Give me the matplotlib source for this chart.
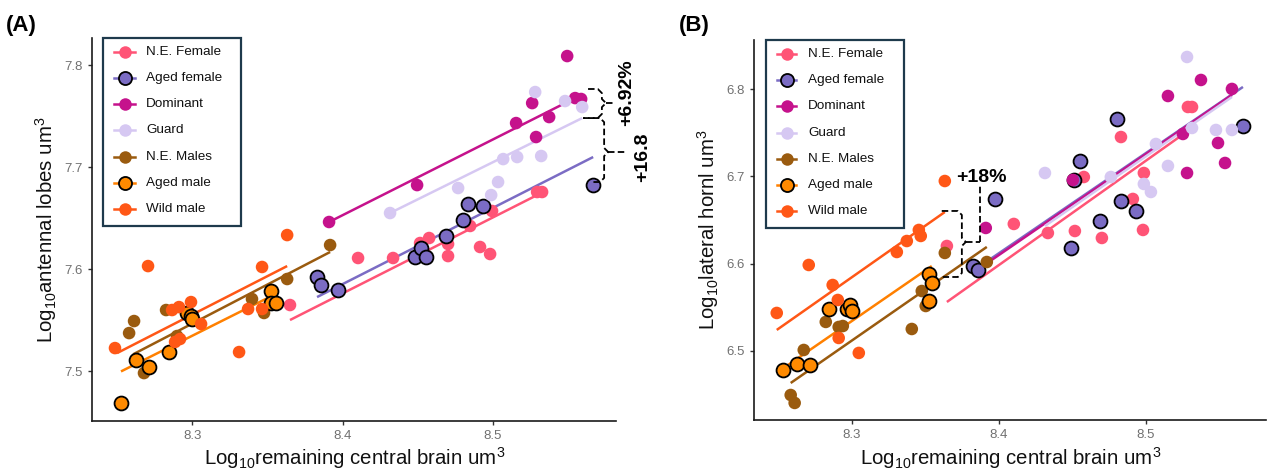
import matplotlib
matplotlib.use("Agg")
import matplotlib.pyplot as plt
from matplotlib.lines import Line2D
from matplotlib.patches import Rectangle

plt.rcParams['font.family'] = ['Liberation Sans', 'DejaVu Sans']
plt.rcParams['mathtext.fontset'] = 'custom'
plt.rcParams['mathtext.rm'] = 'Liberation Sans'
plt.rcParams['mathtext.it'] = 'Liberation Sans:italic'
plt.rcParams['mathtext.bf'] = 'Liberation Sans:bold'

# ---------------- data ----------------
groups = ["N.E. Female", "Aged female", "Dominant", "Guard",
          "N.E. Males", "Aged male", "Wild male"]
colors = ["#FF5476", "#7B6CC4", "#C5128C", "#D6C8F2",
          "#9A5B0F", "#FF8A00", "#FF5716"]
line_colors = ["#FF5476", "#7B6CC4", "#C5128C", "#D6C8F2",
               "#9A5B0F", "#FF8000", "#FF5716"]
edged = [False, True, False, False, False, True, False]

# Panel A: log10 remaining central brain vs log10 antennal lobes
a_nef_x = [8.3650, 8.4103, 8.4336, 8.4516, 8.4576, 8.4702, 8.4702, 8.4849, 8.4915, 8.4982, 8.4995, 8.5295, 8.5328]
a_nef_y = [7.5650, 7.6111, 7.6111, 7.6258, 7.6307, 7.6248, 7.6130, 7.6425, 7.6219, 7.6150, 7.6572, 7.6758, 7.6758]
a_agf_x = [8.3830, 8.3857, 8.3970, 8.4483, 8.4523, 8.4556, 8.4689, 8.4802, 8.4836, 8.4935, 8.5668]
a_agf_y = [7.5925, 7.5846, 7.5797, 7.6121, 7.6209, 7.6121, 7.6326, 7.6483, 7.6640, 7.6621, 7.6826]
a_dom_x = [8.3910, 8.4496, 8.5155, 8.5262, 8.5288, 8.5375, 8.5495, 8.5548, 8.5588]
a_dom_y = [7.6464, 7.6826, 7.7434, 7.7630, 7.7297, 7.7493, 7.8091, 7.7679, 7.7670]
a_grd_x = [8.4316, 8.4769, 8.4989, 8.5035, 8.5069, 8.5162, 8.5322, 8.5282, 8.5481, 8.5595]
a_grd_y = [7.6552, 7.6797, 7.6728, 7.6856, 7.7081, 7.7101, 7.7111, 7.7738, 7.7650, 7.7591]
a_nem_x = [8.2579, 8.2612, 8.2678, 8.2825, 8.2898, 8.3397, 8.3477, 8.3631, 8.3917]
a_nem_y = [7.5375, 7.5493, 7.4983, 7.5601, 7.5346, 7.5709, 7.5572, 7.5905, 7.6238]
a_agm_x = [8.2525, 8.2625, 8.2712, 8.2845, 8.2965, 8.2991, 8.2998, 8.3524, 8.3524, 8.3557]
a_agm_y = [7.4689, 7.5111, 7.5042, 7.5189, 7.5572, 7.5542, 7.5513, 7.5787, 7.5670, 7.5670]
a_wild_x = [8.2485, 8.2705, 8.2865, 8.2911, 8.2991, 8.3058, 8.2885, 8.2918, 8.3311, 8.3371, 8.3464, 8.3464, 8.3631]
a_wild_y = [7.5228, 7.6032, 7.5601, 7.5630, 7.5679, 7.5464, 7.5288, 7.5317, 7.5189, 7.5611, 7.6023, 7.5611, 7.6336]

# fitted regression lines (x0, y0, x1, y1), same order as groups
a_fit_x0 = [8.3650, 8.3830, 8.3910, 8.4316, 8.2606, 8.2525, 8.2499]
a_fit_y0 = [7.5503, 7.5728, 7.6464, 7.6552, 7.5167, 7.4999, 7.5179]
a_fit_x1 = [8.5335, 8.5668, 8.5588, 8.5595, 8.3917, 8.3557, 8.3631]
a_fit_y1 = [7.6758, 7.7101, 7.7709, 7.7483, 7.6170, 7.5760, 7.6032]

# Panel B: log10 remaining central brain vs log10 lateral horn
b_nef_x = [8.3646, 8.4102, 8.4334, 8.4518, 8.4579, 8.4702, 8.4832, 8.4913, 8.4982, 8.4988, 8.5288, 8.5316]
b_nef_y = [6.6202, 6.6455, 6.6351, 6.6374, 6.6994, 6.6294, 6.7453, 6.6742, 6.6386, 6.7040, 6.7798, 6.7798]
b_agf_x = [8.3823, 8.3857, 8.3973, 8.4491, 8.4511, 8.4552, 8.4688, 8.4804, 8.4832, 8.4934, 8.5663]
b_agf_y = [6.5972, 6.5927, 6.6742, 6.6179, 6.6960, 6.7178, 6.6489, 6.7660, 6.6719, 6.6604, 6.7580]
b_dom_x = [8.3911, 8.4504, 8.5152, 8.5254, 8.5282, 8.5377, 8.5493, 8.5541, 8.5588]
b_dom_y = [6.6409, 6.6960, 6.7924, 6.7488, 6.7040, 6.8108, 6.7385, 6.7155, 6.8005]
b_grd_x = [8.4314, 8.4763, 8.4988, 8.5036, 8.5070, 8.5152, 8.5282, 8.5316, 8.5479, 8.5588]
b_grd_y = [6.7040, 6.6994, 6.6914, 6.6822, 6.7373, 6.7121, 6.8372, 6.7557, 6.7534, 6.7534]
b_nem_x = [8.2582, 8.2609, 8.2671, 8.2821, 8.2909, 8.2937, 8.3407, 8.3475, 8.3502, 8.3632, 8.3918]
b_nem_y = [6.4491, 6.4400, 6.5008, 6.5330, 6.5272, 6.5283, 6.5249, 6.5685, 6.5513, 6.6122, 6.6018]
b_agm_x = [8.2528, 8.2623, 8.2712, 8.2841, 8.2964, 8.2984, 8.2998, 8.3523, 8.3543, 8.3523]
b_agm_y = [6.4778, 6.4847, 6.4836, 6.5479, 6.5479, 6.5525, 6.5456, 6.5881, 6.5777, 6.5571]
b_wild_x = [8.2487, 8.2705, 8.2868, 8.2903, 8.2909, 8.3046, 8.3305, 8.3373, 8.3455, 8.3468, 8.3632]
b_wild_y = [6.5433, 6.5984, 6.5754, 6.5582, 6.5146, 6.4974, 6.6133, 6.6259, 6.6386, 6.6317, 6.6948]

b_fit_x0 = [8.3646, 8.3823, 8.3911, 8.4314, 8.2582, 8.2528, 8.2487]
b_fit_y0 = [6.5559, 6.5915, 6.5995, 6.6432, 6.4629, 6.4794, 6.5238]
b_fit_x1 = [8.5316, 8.5663, 8.5588, 8.5588, 8.3918, 8.3543, 8.3632]
b_fit_y1 = [6.7557, 6.8028, 6.7936, 6.7913, 6.6191, 6.5972, 6.6592]

x_ticks = [8.3, 8.4, 8.5]
a_y_ticks = [7.5, 7.6, 7.7, 7.8]
b_y_ticks = [6.5, 6.6, 6.7, 6.8]
x_lim = (8.2332, 8.5820)
a_y_lim = (7.4513, 7.8268)
b_y_lim = (6.4204, 6.8567)

a_points = [(a_nef_x, a_nef_y), (a_agf_x, a_agf_y), (a_dom_x, a_dom_y), (a_grd_x, a_grd_y),
            (a_nem_x, a_nem_y), (a_agm_x, a_agm_y), (a_wild_x, a_wild_y)]
b_points = [(b_nef_x, b_nef_y), (b_agf_x, b_agf_y), (b_dom_x, b_dom_y), (b_grd_x, b_grd_y),
            (b_nem_x, b_nem_y), (b_agm_x, b_agm_y), (b_wild_x, b_wild_y)]

# ---------------- figure ----------------
W, H = 1267, 475
fig = plt.figure(figsize=(W / 100, H / 100), dpi=100)
fig.patch.set_facecolor('white')


def fx(px):
    return px / W


def fy(py):
    return 1 - py / H


def make_axes(l, t, r, b):
    return fig.add_axes([fx(l), fy(b), fx(r) - fx(l), fy(t) - fy(b)])


axA = make_axes(92, 38, 616, 421)
axB = make_axes(754, 40, 1266, 420)


def style_axes(ax, ylim, yticks):
    ax.set_xlim(*x_lim)
    ax.set_ylim(*ylim)
    ax.set_xticks(x_ticks)
    ax.set_yticks(yticks)
    ax.set_xticklabels([f"{v:.1f}" for v in x_ticks])
    ax.set_yticklabels([f"{v:.1f}" for v in yticks])
    for s in ['top', 'right']:
        ax.spines[s].set_visible(False)
    for s in ['left', 'bottom']:
        ax.spines[s].set_linewidth(1.2)
        ax.spines[s].set_color('#1a1a1a')
    ax.tick_params(direction='out', length=3.2, width=1.0, color='#333333',
                   labelcolor='#707070', labelsize=9.5, pad=3.5)
    ax.set_facecolor('white')


def draw_panel(ax, points, fx0, fy0, fx1, fy1):
    for i in range(len(groups)):
        ax.plot([fx0[i], fx1[i]], [fy0[i], fy1[i]], color=line_colors[i],
                lw=1.8, solid_capstyle='butt', zorder=2)
    for i, (xs, ys) in enumerate(points):
        if edged[i]:
            ax.scatter(xs, ys, s=100, c=colors[i], edgecolors='black',
                       linewidths=1.3, zorder=3 + i * 0.1)
        else:
            ax.scatter(xs, ys, s=82, c=colors[i], edgecolors='none',
                       zorder=3 + i * 0.1)


style_axes(axA, a_y_lim, a_y_ticks)
style_axes(axB, b_y_lim, b_y_ticks)
draw_panel(axA, a_points, a_fit_x0, a_fit_y0, a_fit_x1, a_fit_y1)
draw_panel(axB, b_points, b_fit_x0, b_fit_y0, b_fit_x1, b_fit_y1)


def brace(ax, x_top_end, x_bot_end, x_sp, y_top, y_bot, y_mid, x_tip, rx, ry, extra=None):
    xs = [x_top_end, x_sp - rx, x_sp, x_sp, x_sp + rx, x_sp, x_sp, x_sp - rx, x_bot_end]
    ys = [y_top, y_top, y_top - ry, y_mid + ry, y_mid, y_mid - ry, y_bot + ry, y_bot, y_bot]
    kw = dict(color='black', lw=1.3, dashes=(3.6, 1.8), clip_on=False, zorder=6)
    ax.plot(xs, ys, **kw)
    ax.plot([x_sp + rx, x_tip], [y_mid, y_mid], **kw)
    if extra is not None:
        ax.plot([x_tip, x_tip], [y_mid, extra], **kw)


# Panel A brackets and labels
brace(axA, 8.5634, 8.5601, 8.5726, 7.7768, 7.7483, 7.7630, 8.5801, 0.0027, 0.0040)
brace(axA, 8.5601, 8.5668, 8.5741, 7.7483, 7.6856, 7.7150, 8.5881, 0.0027, 0.0040)
axA.text(8.5894, 7.7728, "+6.92%", rotation=90, ha='center', va='center',
         fontsize=14, fontweight='bold', clip_on=False)
axA.text(8.5994, 7.7101, "+16.8", rotation=90, ha='center', va='center',
         fontsize=14, fontweight='bold', clip_on=False)

# Panel B bracket and label
brace(axB, 8.3611, 8.3618, 8.3748, 6.6604, 6.5846, 6.6248, 8.3870, 0.0027, 0.0046,
      extra=6.6902)
axB.text(8.3707, 6.6994, "+18%", ha='left', va='center', fontsize=14,
         fontweight='bold')

# axis labels
lab_kw = dict(fontsize=14.7, color='#111111')
fig.text(fx(355), fy(458), "Log$_{10}$remaining central brain um$^{3}$", ha='center', va='center', **lab_kw)
fig.text(fx(1011), fy(458), "Log$_{10}$remaining central brain um$^{3}$", ha='center', va='center', **lab_kw)
fig.text(fx(46), fy(230), "Log$_{10}$antennal lobes um$^{3}$", rotation=90, ha='center', va='center', **lab_kw)
fig.text(fx(708), fy(230), "Log$_{10}$lateral hornl um$^{3}$", rotation=90, ha='center', va='center', **lab_kw)

# panel tags
fig.text(fx(6), fy(25), "(A)", fontsize=16, fontweight='bold', ha='left', va='center')
fig.text(fx(679), fy(25), "(B)", fontsize=16, fontweight='bold', ha='left', va='center')


def legend_box(left, top, right, bottom, key_x0, key_x1, text_x, rows):
    fig.add_artist(Rectangle((fx(left), fy(bottom)), fx(right) - fx(left), fy(top) - fy(bottom),
                             transform=fig.transFigure, fill=True, facecolor='white',
                             edgecolor='#1E3A4C', lw=1.6, zorder=10))
    kc = (key_x0 + key_x1) / 2
    for i, name in enumerate(groups):
        yy = fy(rows[i])
        fig.add_artist(Line2D([fx(key_x0), fx(key_x1)], [yy, yy], transform=fig.transFigure,
                              color=line_colors[i], lw=1.8, zorder=11))
        fig.add_artist(Line2D([fx(kc)], [yy], transform=fig.transFigure, marker='o',
                              markersize=9.4 if edged[i] else 9.0,
                              markerfacecolor=colors[i],
                              markeredgecolor='black' if edged[i] else colors[i],
                              markeredgewidth=1.3 if edged[i] else 0, lw=0, zorder=12))
        fig.text(fx(text_x), yy, name, fontsize=9.7, ha='left', va='center',
                 color='#111111', zorder=12)


legend_box(103, 38, 241, 226, 114, 135, 146, [52, 78, 104, 130, 157, 183, 209])
legend_box(766, 40, 904, 228, 777, 796, 808, [54, 80, 106, 133, 159, 185, 211])

fig.savefig("out.png", dpi=100, facecolor='white')
